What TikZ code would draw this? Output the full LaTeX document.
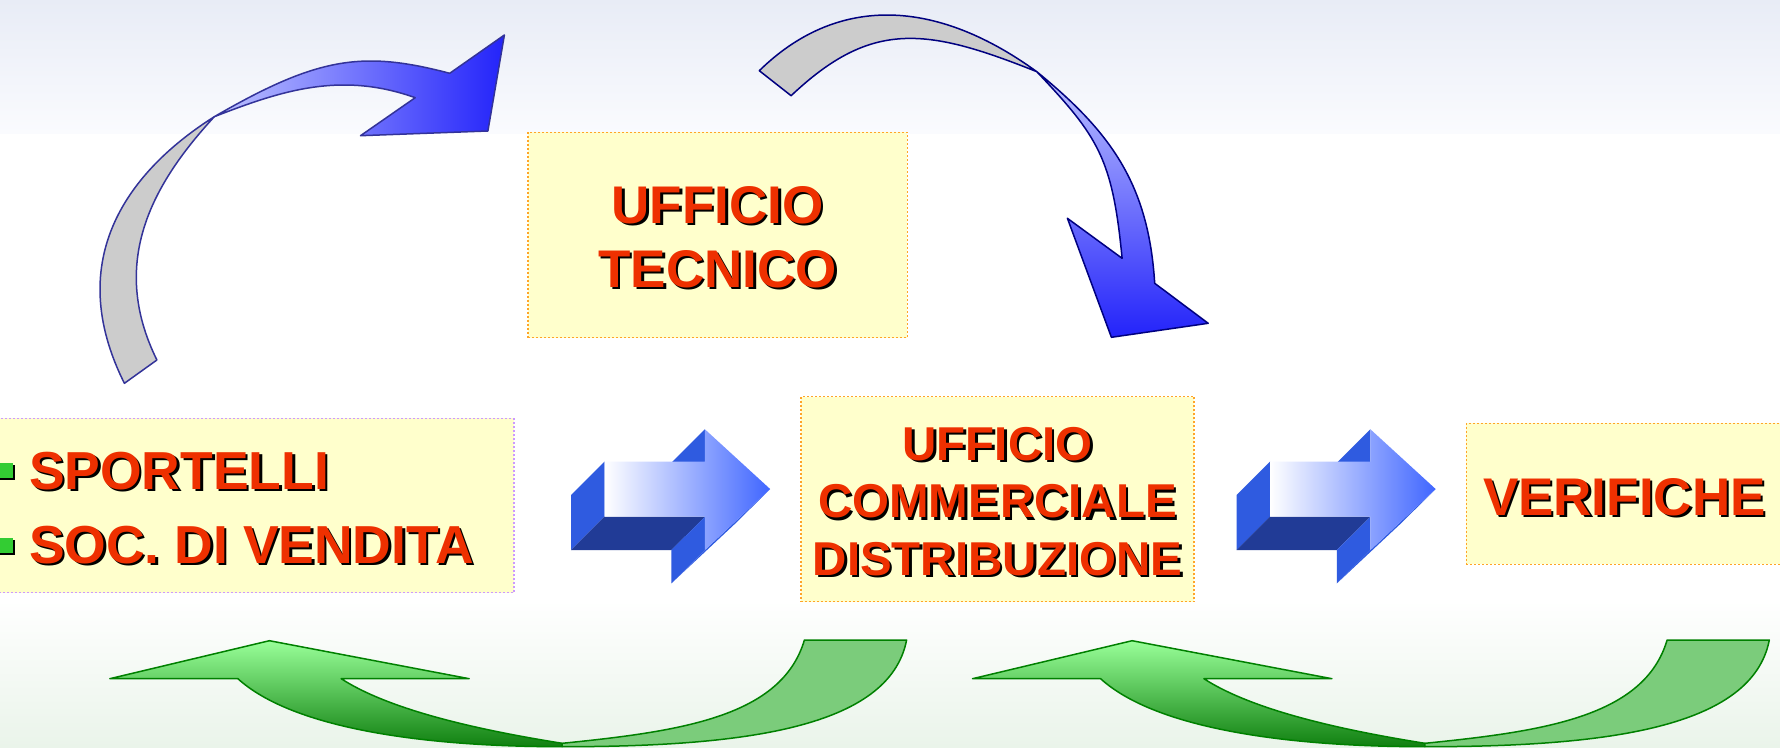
\documentclass[tikz,border=0pt]{standalone}
\usepackage{fontspec}
\setmainfont{Liberation Sans}
\definecolor{txtred}{RGB}{238,48,0}
\definecolor{boxfill}{RGB}{255,255,204}
\definecolor{boxorange}{RGB}{255,165,40}
\definecolor{boxlilac}{RGB}{204,153,255}
\definecolor{navyA}{RGB}{51,51,153}
\definecolor{navyB}{RGB}{0,0,128}
\definecolor{grayband}{RGB}{204,204,204}
\definecolor{blueLight}{RGB}{190,195,255}
\definecolor{blueDark}{RGB}{35,35,250}
\definecolor{gLight}{RGB}{153,255,153}
\definecolor{gDark}{RGB}{16,128,16}
\definecolor{gTail}{RGB}{123,204,123}
\definecolor{gLine}{RGB}{0,128,0}
\definecolor{bkMid}{RGB}{47,91,224}
\definecolor{bkDark}{RGB}{33,59,150}
\definecolor{bkTip}{RGB}{64,102,255}
\definecolor{bgTop}{RGB}{232,236,246}
\definecolor{bgTopEnd}{RGB}{250,251,254}
\definecolor{bgBot}{RGB}{234,244,234}
\definecolor{bulletgreen}{RGB}{51,204,51}
\newcommand\ShTxt[5]{%
  \node[lbl, anchor=#2, text=black, font=\bfseries\fontsize{#4}{#4}\selectfont, xshift=2.5pt, yshift=-2.5pt] (#1s) at #3 {#5};
  \node[lbl, anchor=#2, text=txtred, font=\bfseries\fontsize{#4}{#4}\selectfont] (#1) at #3 {#5};
}
\begin{document}
\begin{tikzpicture}[x=1pt,y=-1pt,
  ybox/.style={rectangle, draw=boxorange, fill=boxfill, line width=1.5pt, dash pattern=on 2pt off 2pt, inner sep=0pt},
  lbl/.style={inner sep=0pt, outer sep=0pt},
  bulletsq/.style={rectangle, minimum size=15pt, inner sep=0pt},
  bandA/.style={draw=navyA, line width=1.5pt, line join=round},
  bandB/.style={draw=navyB, line width=1.5pt, line join=round},
  gband/.style={draw=gLine, line width=1.5pt, line join=round},
  bkside/.style={fill=bkMid},
  bkbottom/.style={fill=bkDark},
  bkfront/.style={left color=white, right color=bkTip}]
\useasboundingbox (0,0) rectangle (1780,747);
\clip (0,0) rectangle (1780,747);
% background
\fill[white] (0,0) rectangle (1780,747);
\shade[top color=bgTop, bottom color=bgTopEnd] (0,0) rectangle (1780,133);
\shade[top color=white, bottom color=bgBot] (0,600) rectangle (1780,747);

% boxes
\node[ybox, minimum width=379.4pt, minimum height=205.4pt] (tecbox) at (717.7,235) {};
\node[ybox, draw=boxlilac, minimum width=519pt, minimum height=174.4pt] (spbox) at (254.5,505.5) {};
\node[ybox, minimum width=393.3pt, minimum height=205pt] (combox) at (997.55,499.2) {};
\node[ybox, minimum width=323.7pt, minimum height=141pt] (verbox) at (1628.15,493.8) {};

% texts
\ShTxt{tecA}{base}{(717.7,223.3)}{53}{UFFICIO}
\ShTxt{tecB}{base}{(717.7,287.3)}{53}{TECNICO}
\ShTxt{comA}{base}{(997.5,460)}{47.5}{UFFICIO}
\ShTxt{comB}{base}{(997.5,517.5)}{47.5}{COMMERCIALE}
\ShTxt{comC}{base}{(997.5,575)}{47.5}{DISTRIBUZIONE}
\ShTxt{spA}{base west}{(29,489.3)}{53.5}{SPORTELLI}
\ShTxt{spB}{base west}{(29,563.3)}{53.5}{SOC. DI VENDITA}
\ShTxt{ver}{base west}{(1483,515)}{53}{VERIFICHE}

% bullets
\node[bulletsq, fill=black, xshift=2pt, yshift=-2pt] (bulAs) at (5.5,470.8) {};
\node[bulletsq, fill=bulletgreen] (bulA) at (5.5,470.8) {};
\node[bulletsq, fill=black, xshift=2pt, yshift=-2pt] (bulBs) at (5.5,545.2) {};
\node[bulletsq, fill=bulletgreen] (bulB) at (5.5,545.2) {};

% 3D block arrows
\foreach \dx in {0,665.5}{
\begin{scope}[xshift=\dx pt]
  \fill[bkside] (604.5,461.7) -- (604.5,516.7) -- (571,550) -- (571,495) -- cycle;
  \fill[bkbottom] (604.5,516.7) -- (704.9,516.7) -- (671.4,550) -- (571,550) -- cycle;
  \fill[bkside] (704.9,516.7) -- (704.9,550) -- (671.4,583.3) -- (671.4,550) -- cycle;
  \fill[bkside] (704.9,550) -- (770.1,489) -- (736.6,522.3) -- (671.4,583.3) -- cycle;
  \fill[bkside] (704.9,429.3) -- (704.9,461.7) -- (671.4,495) -- (671.4,462.6) -- cycle;
  \shade[bkfront] (604.5,461.7) -- (704.9,461.7) -- (704.9,429.3) -- (770.1,489) -- (704.9,550) -- (704.9,516.7) -- (604.5,516.7) -- cycle;
\end{scope}
}

% big curved arrow 1 (left, up)
\coordinate (xa) at (214.3,116.7);
\draw[bandA, fill=grayband] (124.4,383.3) .. controls (61.8,258.1) and (129.8,170.2) .. (xa)
  .. controls (153.4,182.9) and (108.2,261.3) .. (156.9,360) -- cycle;
\draw[bandA, left color=blueLight, right color=blueDark] (xa) .. controls (318.1,56.6) and (362.7,50.4) .. (449.7,73.3)
  -- (504.4,35) -- (487.9,131) -- (360.5,135.7) -- (415.2,97.7)
  .. controls (339.9,70.7) and (279.5,91.4) .. (xa) -- cycle;

% big curved arrow 2 (right, down)
\coordinate (xb) at (1036.8,71.7);
\draw[bandB, fill=grayband] (759.3,70.7) .. controls (834.3,-2.8) and (931.5,-4.6) .. (xb)
  .. controls (925.4,27.1) and (871.1,20.1) .. (791.1,95.7) -- cycle;
\draw[bandB, top color=blueLight, bottom color=blueDark] (xb) .. controls (1110.3,131.8) and (1148.5,183.5) .. (1154.7,283.3)
  -- (1208.2,323.3) -- (1111.4,337.3) -- (1067.4,218.3) -- (1122.1,258.3)
  .. controls (1112.5,158.8) and (1098.7,137) .. (xb) -- cycle;

% green return arrows
\foreach \dx in {0,862.7}{
\begin{scope}[xshift=\dx pt]
  \draw[gband, top color=gLight, bottom color=gDark] (269.4,640.7) -- (469.2,678.7) -- (341.2,678.7)
    .. controls (391.6,711.3) and (483.2,730.7) .. (562.2,743.3)
    -- (562.2,746.7) .. controls (412.2,746.7) and (289.7,725.8) .. (237.9,678.7)
    -- (109.8,678.7) -- cycle;
  \draw[gband, fill=gTail] (562.2,743.3) .. controls (681.6,731.3) and (781.7,716.7) .. (804.4,640)
    -- (906.6,640) .. controls (889.5,728.4) and (742.2,746.7) .. (562.2,746.7) -- cycle;
\end{scope}
}
\end{tikzpicture}
\end{document}
